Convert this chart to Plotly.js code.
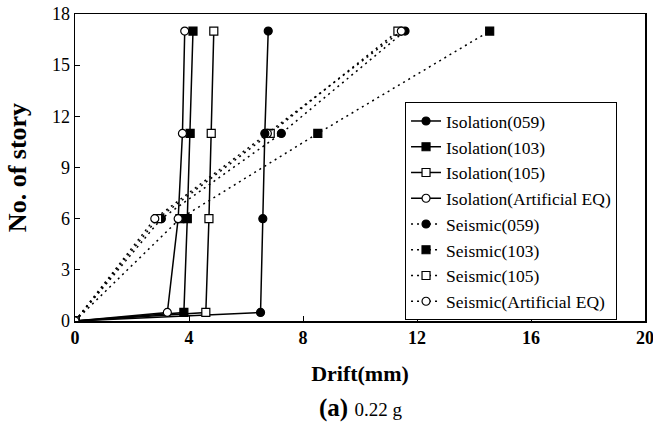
<!DOCTYPE html>
<html>
<head>
<meta charset="utf-8">
<script src="https://cdn.plot.ly/plotly-3.0.1.min.js"></script>
<style>html,body{margin:0;padding:0;background:#fff;}#chart{width:653px;height:439px;}</style>
</head>
<body>
<div id="chart"></div>
<script>
// Data (drift in mm, story number)
const isoStories = [0, 0.5, 6, 11, 17];
const seisStories = [0, 6, 11, 17];
const iso059 = [0, 6.51, 6.59, 6.66, 6.78];
const iso103 = [0, 3.82, 3.94, 4.04, 4.14];
const iso105 = [0, 4.59, 4.70, 4.78, 4.87];
const isoArt = [0, 3.24, 3.62, 3.77, 3.85];
const seis059 = [0, 3.03, 7.24, 11.58];
const seis103 = [0, 3.68, 8.52, 14.55];
const seis105 = [0, 2.90, 6.85, 11.33];
const seisArt = [0, 2.80, 6.75, 11.45];
const names = ["Isolation(059)", "Isolation(103)", "Isolation(105)", "Isolation(Artificial EQ)",
               "Seismic(059)", "Seismic(103)", "Seismic(105)", "Seismic(Artificial EQ)"];
const xTicks = [0, 4, 8, 12, 16, 20];
const yTicks = [0, 3, 6, 9, 12, 15, 18];

const serif = "Liberation Serif";
const symbols = ["circle", "square", "square", "circle"];
const fills = ["black", "black", "white", "white"];
const isoData = [iso059, iso103, iso105, isoArt];
const seisData = [seis059, seis103, seis105, seisArt];

const traces = [];
seisData.forEach((d, i) => {
  traces.push({
    x: d, y: seisStories, name: names[4 + i], type: "scatter", mode: "lines+markers",
    legendgroup: "g" + (4 + i), legendrank: 5 + i,
    line: {color: "black", width: 1.5, dash: "2px,4px"},
    marker: {symbol: symbols[i], size: 8, color: fills[i], line: {color: "black", width: 1.2}}
  });
});
isoData.forEach((d, i) => {
  traces.push({
    x: d, y: isoStories, name: names[i], type: "scatter", mode: "lines+markers",
    legendgroup: "g" + i, legendrank: 1 + i,
    line: {color: "black", width: 1.5},
    marker: {symbol: symbols[i], size: 8, color: fills[i], line: {color: "black", width: 1.2}}
  });
});

const layout = {
  width: 653, height: 439,
  margin: {l: 75, r: 8, t: 14, b: 118},
  paper_bgcolor: "white", plot_bgcolor: "white",
  showlegend: true,
  font: {family: serif, color: "black"},
  xaxis: {
    range: [0, 20], tickvals: xTicks, ticktext: xTicks.map(String),
    ticks: "inside", ticklen: 5, tickwidth: 1, tickcolor: "black",
    showline: true, linecolor: "black", linewidth: 1.5, mirror: true,
    showgrid: false, zeroline: false, ticklabeloverflow: "allow",
    tickfont: {family: serif, size: 18, weight: "bold"},
    title: {text: "Drift(mm)", font: {family: serif, size: 22, weight: "bold"}, standoff: 18}
  },
  yaxis: {
    range: [0, 18], tickvals: yTicks, ticktext: yTicks.map(String),
    ticks: "inside", ticklen: 5, tickwidth: 1, tickcolor: "black",
    showline: true, linecolor: "black", linewidth: 1.5, mirror: true,
    showgrid: false, zeroline: false,
    tickfont: {family: serif, size: 18},
    title: {text: "No. of story", font: {family: serif, size: 26, weight: "bold"}, standoff: 18}
  },
  legend: {
    x: 0.579, y: 0.713, xanchor: "left", yanchor: "top",
    bgcolor: "white", bordercolor: "black", borderwidth: 1,
    font: {family: serif, size: 17.5},
    traceorder: "grouped", tracegroupgap: 0
  },
  annotations: [{
    xref: "paper", yref: "paper", x: 0.5, y: -0.285, xanchor: "center", yanchor: "middle",
    showarrow: false,
    text: "<b>(a)</b> <span style='font-size:19px'>0.22 g</span>",
    font: {family: serif, size: 25, color: "black"}
  }]
};

Plotly.newPlot("chart", traces, layout, {displayModeBar: false, staticPlot: true});
</script>
</body>
</html>
